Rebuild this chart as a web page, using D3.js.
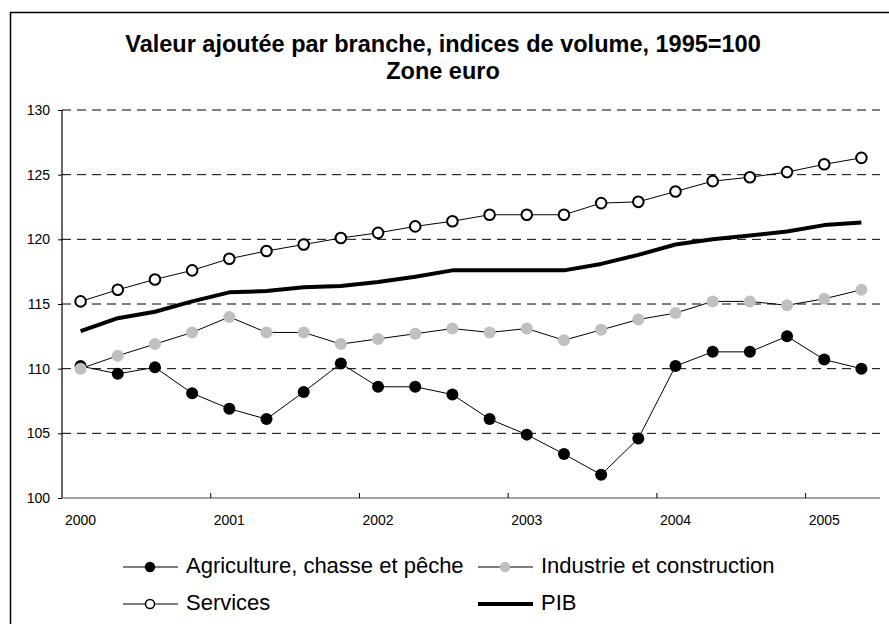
<!DOCTYPE html>
<html><head><meta charset="utf-8">
<script src="https://cdn.jsdelivr.net/npm/d3@7/dist/d3.min.js"></script>
<style>
body{margin:0;background:#fff}
svg{display:block}
text{font-family:"Liberation Sans",Arial,Helvetica,sans-serif;fill:#000}
</style>
</head><body>
<svg id="chart" width="889" height="624"></svg>
<script>
// ---- data ----
const quarters = ["2000T1","2000T2","2000T3","2000T4","2001T1","2001T2","2001T3","2001T4",
  "2002T1","2002T2","2002T3","2002T4","2003T1","2003T2","2003T3","2003T4",
  "2004T1","2004T2","2004T3","2004T4","2005T1","2005T2"];
const yearLabels = ["2000","2001","2002","2003","2004","2005"];
const yTicks = [100,105,110,115,120,125,130];
const agriculture = [110.2,109.6,110.1,108.1,106.9,106.1,108.2,110.4,108.6,108.6,108.0,106.1,
  104.9,103.4,101.8,104.6,110.2,111.3,111.3,112.5,110.7,110.0];
const industrie = [110.0,111.0,111.9,112.8,114.0,112.8,112.8,111.9,112.3,112.7,113.1,112.8,
  113.1,112.2,113.0,113.8,114.3,115.2,115.2,114.9,115.4,116.1];
const services = [115.2,116.1,116.9,117.6,118.5,119.1,119.6,120.1,120.5,121.0,121.4,121.9,
  121.9,121.9,122.8,122.9,123.7,124.5,124.8,125.2,125.8,126.3];
const pib = [112.9,113.9,114.4,115.2,115.9,116.0,116.3,116.4,116.7,117.1,117.6,117.6,
  117.6,117.6,118.1,118.8,119.6,120.0,120.3,120.6,121.1,121.3];
const seriesNames = ["Agriculture, chasse et pêche","Industrie et construction","Services","PIB"];
const titleLines = ["Valeur ajoutée par branche, indices de volume, 1995=100","Zone euro"];

// ---- chart ----
const svg = d3.select("#chart");
const mLeft = 62, mRight = 880, mTop = 110, mBottom = 498;

const x = d3.scaleBand().domain(quarters).range([mLeft, mRight]).padding(0);
const y = d3.scaleLinear().domain([100,130]).range([mBottom, mTop]);
const cx = d => x(d) + x.bandwidth()/2;

// frame (only left and top edges visible)
svg.append("rect").attr("x",10.5).attr("y",12.5).attr("width",1000).attr("height",1000)
  .attr("fill","none").attr("stroke","#000").attr("stroke-width",1.5);

// title
svg.append("g").selectAll("text").data(titleLines).join("text")
  .attr("x",443).attr("y",(d,i)=>52 + i*26.5)
  .attr("text-anchor","middle").attr("font-size","23.5px").attr("font-weight","bold")
  .text(d=>d);

// gridlines
svg.append("g").selectAll("line").data(yTicks.filter(v=>v>100)).join("line")
  .attr("x1",mLeft).attr("x2",mRight)
  .attr("y1",d=>y(d)).attr("y2",d=>y(d))
  .attr("stroke","#000").attr("stroke-width",1).attr("stroke-dasharray","9,6");

// y axis
const yAxis = svg.append("g").attr("transform",`translate(${mLeft},0)`)
  .call(d3.axisLeft(y).tickValues(yTicks).tickFormat(d3.format("d")).tickSize(4).tickPadding(8));
yAxis.select(".domain").remove();
yAxis.selectAll("line").attr("stroke","#000");
yAxis.selectAll("text").attr("font-size","14px").attr("font-family","Liberation Sans, Arial, sans-serif");
svg.append("line").attr("x1",mLeft).attr("x2",mLeft).attr("y1",mTop).attr("y2",mBottom)
  .attr("stroke","#000").attr("stroke-width",1.2);

// x axis
const yearQuarters = quarters.filter((d,i)=>i%4===0);
const xAxis = svg.append("g").attr("transform",`translate(0,${mBottom})`)
  .call(d3.axisBottom(x).tickValues(yearQuarters).tickFormat((d,i)=>yearLabels[i]).tickSize(0).tickPadding(17));
xAxis.select(".domain").remove();
xAxis.selectAll("text").attr("font-size","14px").attr("font-family","Liberation Sans, Arial, sans-serif");
svg.append("line").attr("x1",mLeft).attr("x2",mRight).attr("y1",mBottom).attr("y2",mBottom)
  .attr("stroke","#808080").attr("stroke-width",1.5);
svg.append("g").selectAll("line").data(yearQuarters.slice(1)).join("line")
  .attr("x1",d=>x(d)).attr("x2",d=>x(d)).attr("y1",mBottom).attr("y2",mBottom-5)
  .attr("stroke","#000").attr("stroke-width",1);

// series
const series = [
  {name:seriesNames[0], values:agriculture, lw:1, marker:{fill:"#000", stroke:"none", r:6}},
  {name:seriesNames[1], values:industrie, lw:1, marker:{fill:"#c0c0c0", stroke:"none", r:6}},
  {name:seriesNames[2], values:services, lw:1, marker:{fill:"#fff", stroke:"#000", r:5.3, sw:2}},
  {name:seriesNames[3], values:pib, lw:4, marker:null}
];
const line = d3.line().x((d,i)=>cx(quarters[i])).y(d=>y(d));
series.forEach(s=>{
  const g = svg.append("g");
  g.append("path").datum(s.values).attr("d",line).attr("fill","none")
    .attr("stroke","#000").attr("stroke-width",s.lw).attr("stroke-linejoin","round");
  if(s.marker){
    g.selectAll("circle").data(s.values).join("circle")
      .attr("cx",(d,i)=>cx(quarters[i])).attr("cy",d=>y(d)).attr("r",s.marker.r)
      .attr("fill",s.marker.fill).attr("stroke",s.marker.stroke).attr("stroke-width",s.marker.sw||0);
  }
});

// legend
const legendPos = [[123,567],[478,567],[123,604],[478,604]];
series.forEach((s,i)=>{
  const [lx,ly] = legendPos[i];
  const g = svg.append("g").attr("transform",`translate(${lx},${ly})`);
  g.append("line").attr("x1",0).attr("x2",55).attr("y1",0).attr("y2",0)
    .attr("stroke","#000").attr("stroke-width",s.lw);
  if(s.marker){
    g.append("circle").attr("cx",27).attr("cy",0).attr("r",s.marker.r-0.8)
      .attr("fill",s.marker.fill).attr("stroke",s.marker.stroke).attr("stroke-width",s.marker.sw? 1.5:0);
  }
  g.append("text").attr("x",63).attr("y",5.5).attr("font-size","22px").text(s.name);
});
</script>
</body></html>
